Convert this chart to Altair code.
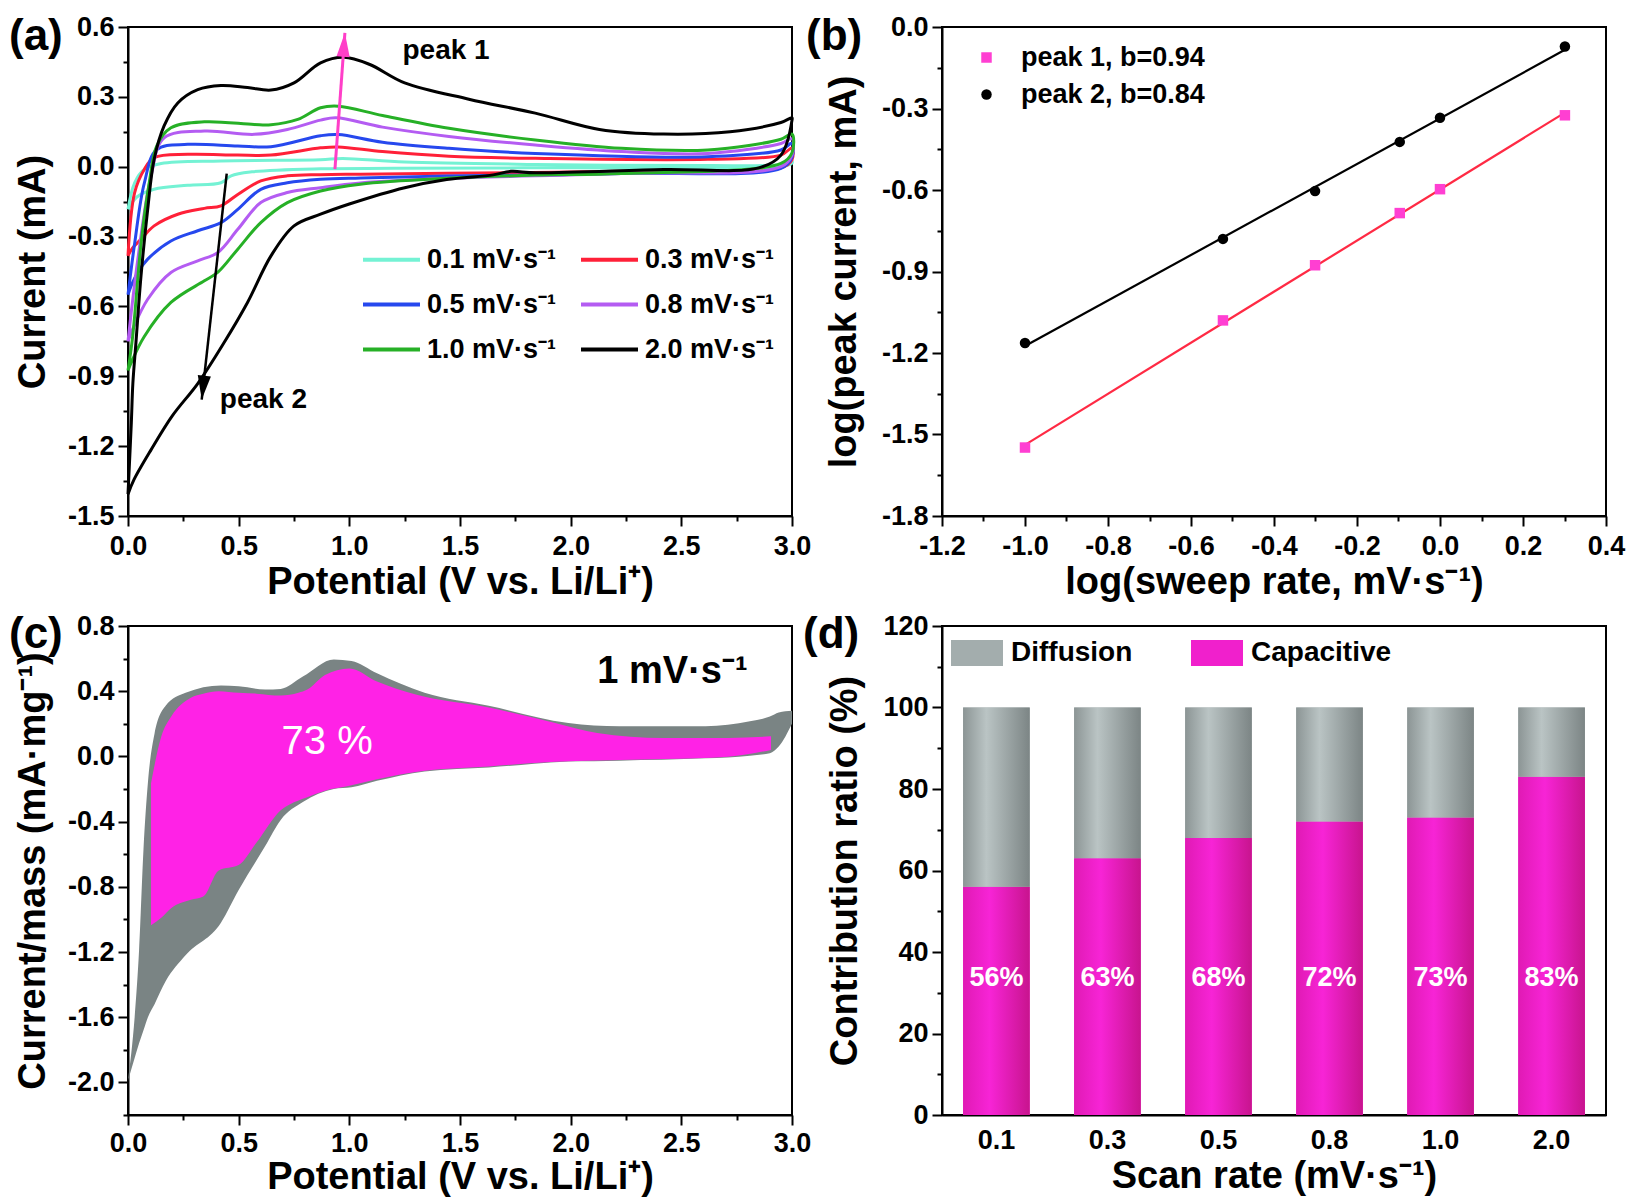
import altair as alt
import pandas as pd
import numpy as np

FONT = "Liberation Sans"
W, H = 664, 489

# ---------------- (a) CV curves ----------------
rate_labels = ["0.1 mV·s⁻¹", "0.3 mV·s⁻¹", "0.5 mV·s⁻¹", "0.8 mV·s⁻¹", "1.0 mV·s⁻¹", "2.0 mV·s⁻¹"]
rate_colors = ["#74f2d4", "#ff2038", "#2648ee", "#b45cf2", "#26b026", "#000000"]
# legend fills column by column: order entries so rows read 0.1|0.3, 0.5|0.8, 1.0|2.0
legend_order = [0, 2, 4, 1, 3, 5]

cyan_an_E = [0.0, 0.03, 0.074, 0.15, 0.42, 0.87, 0.97, 1.25, 1.84, 2.62, 2.95, 3.0]
cyan_an_I = [-0.183, -0.069, -0.011, 0.014, 0.025, 0.03, 0.035, 0.02, 0.01, 0.005, 0.01, 0.025]
cyan_ca_E = [3.0, 2.95, 2.0, 1.2, 0.87, 0.56, 0.466, 0.42, 0.27, 0.118, 0.04, 0.0]
cyan_ca_I = [0.015, 0.0, -0.004, -0.007, -0.009, -0.022, -0.039, -0.069, -0.08, -0.097, -0.13, -0.183]

red_an_E = [0.0, 0.03, 0.074, 0.118, 0.27, 0.496, 0.646, 0.87, 0.95, 1.15, 1.45, 1.84, 2.62, 2.95, 3.0]
red_an_I = [-0.383, -0.111, -0.011, 0.039, 0.053, 0.05, 0.05, 0.081, 0.085, 0.065, 0.045, 0.036, 0.032, 0.05, 0.08]
red_ca_E = [3.0, 2.95, 2.23, 1.44, 1.05, 0.87, 0.72, 0.60, 0.496, 0.42, 0.345, 0.225, 0.118, 0.059, 0.02, 0.0]
red_ca_I = [0.03, -0.005, -0.02, -0.028, -0.032, -0.034, -0.039, -0.061, -0.119, -0.168, -0.179, -0.204, -0.254, -0.311, -0.35, -0.383]

blue_an_E = [0.0, 0.03, 0.074, 0.13, 0.27, 0.496, 0.646, 0.87, 0.95, 1.15, 1.45, 1.84, 2.62, 2.95, 3.0]
blue_an_I = [-0.55, -0.33, -0.069, 0.074, 0.096, 0.089, 0.086, 0.133, 0.138, 0.105, 0.079, 0.057, 0.043, 0.072, 0.1]
blue_ca_E = [3.0, 2.95, 2.23, 1.44, 1.05, 0.87, 0.72, 0.60, 0.496, 0.42, 0.315, 0.194, 0.089, 0.044, 0.015, 0.0]
blue_ca_I = [0.04, -0.007, -0.029, -0.04, -0.048, -0.054, -0.069, -0.097, -0.183, -0.24, -0.275, -0.319, -0.397, -0.454, -0.51, -0.55]

purple_an_E = [0.0, 0.044, 0.104, 0.163, 0.345, 0.57, 0.72, 0.87, 0.94, 1.15, 1.45, 1.84, 2.23, 2.62, 2.95, 3.0]
purple_an_I = [-0.75, -0.40, -0.04, 0.124, 0.153, 0.139, 0.16, 0.2, 0.21, 0.17, 0.13, 0.093, 0.065, 0.057, 0.10, 0.12]
purple_ca_E = [3.0, 2.95, 2.23, 1.44, 1.05, 0.87, 0.72, 0.60, 0.496, 0.405, 0.315, 0.194, 0.089, 0.02, 0.0]
purple_ca_I = [0.05, 0.0, -0.029, -0.05, -0.07, -0.09, -0.111, -0.154, -0.269, -0.369, -0.404, -0.454, -0.569, -0.70, -0.75]

green_an_E = [0.0, 0.021, 0.059, 0.096, 0.13, 0.194, 0.345, 0.57, 0.646, 0.767, 0.87, 0.95, 1.15, 1.45, 1.84, 2.23, 2.62, 2.95, 3.0]
green_an_I = [-0.875, -0.73, -0.33, -0.069, 0.09, 0.167, 0.193, 0.181, 0.18, 0.203, 0.253, 0.26, 0.22, 0.165, 0.115, 0.079, 0.072, 0.118, 0.14]
green_ca_E = [3.0, 2.95, 2.23, 1.84, 1.44, 1.05, 0.87, 0.72, 0.60, 0.496, 0.405, 0.345, 0.194, 0.073, 0.015, 0.0]
green_ca_I = [0.06, 0.014, -0.029, -0.036, -0.05, -0.075, -0.104, -0.154, -0.24, -0.354, -0.454, -0.49, -0.583, -0.73, -0.84, -0.875]

black_an_E = [0.0, 0.015, 0.022, 0.036, 0.059, 0.089, 0.118, 0.163, 0.225, 0.315, 0.42, 0.54, 0.646, 0.75, 0.87, 0.975, 1.09, 1.25, 1.54, 1.84, 2.13, 2.42, 2.72, 2.95, 3.0]
black_an_I = [-1.406, -1.1, -0.93, -0.754, -0.467, -0.183, 0.031, 0.175, 0.274, 0.331, 0.349, 0.34, 0.329, 0.36, 0.446, 0.47, 0.44, 0.36, 0.29, 0.23, 0.16, 0.14, 0.15, 0.19, 0.21]
black_ca_E = [3.0, 2.95, 2.85, 2.42, 1.84, 1.73, 1.65, 1.44, 1.25, 1.0, 0.87, 0.75, 0.646, 0.54, 0.435, 0.316, 0.2, 0.104, 0.027, 0.0]
black_ca_I = [0.2, 0.05, -0.005, -0.012, -0.026, -0.02, -0.035, -0.055, -0.09, -0.16, -0.204, -0.254, -0.383, -0.583, -0.754, -0.93, -1.07, -1.216, -1.344, -1.406]

AN_E = [cyan_an_E, red_an_E, blue_an_E, purple_an_E, green_an_E, black_an_E]
AN_I = [cyan_an_I, red_an_I, blue_an_I, purple_an_I, green_an_I, black_an_I]
CA_E = [cyan_ca_E, red_ca_E, blue_ca_E, purple_ca_E, green_ca_E, black_ca_E]
CA_I = [cyan_ca_I, red_ca_I, blue_ca_I, purple_ca_I, green_ca_I, black_ca_I]

# annotation arrows in (a): start (E, I) -> tip (E, I)
arrow1 = {"E": 0.935, "I": -0.01, "E2": 0.98, "I2": 0.575}
arrow2 = {"E": 0.446, "I": -0.03, "E2": 0.333, "I2": -1.0}
peak_texts = [{"E": 1.24, "I": 0.497, "t": "peak 1"}, {"E": 0.415, "I": -1.0, "t": "peak 2"}]

# ---------------- (b) log-log ----------------
log_rate = [-1.0, -0.523, -0.301, -0.097, 0.0, 0.301]
log_peak1 = [-1.548, -1.08, -0.877, -0.685, -0.597, -0.325]
log_peak2 = [-1.163, -0.78, -0.604, -0.423, -0.334, -0.072]
b_series = ["peak 1, b=0.94", "peak 2, b=0.84"]

# ---------------- (c) capacitive area ----------------
gray_E = [0.0, 0.03, 0.05, 0.07, 0.09, 0.12, 0.17, 0.26, 0.42, 0.5, 0.62, 0.69, 0.79, 0.93, 1.01, 1.125, 1.34, 1.63, 1.99, 2.22, 2.61, 2.81, 2.9, 2.94, 3.0]
gray_up = [-1.99, -1.6, -1.19, -0.57, -0.16, 0.14, 0.31, 0.39, 0.435, 0.43, 0.41, 0.414, 0.49, 0.595, 0.585, 0.51, 0.39, 0.31, 0.205, 0.185, 0.185, 0.215, 0.245, 0.27, 0.28]
gray_lo = [-1.99, -1.85, -1.76, -1.68, -1.6, -1.52, -1.38, -1.22, -1.02, -0.82, -0.55, -0.39, -0.28, -0.2, -0.19, -0.15, -0.092, -0.068, -0.032, -0.026, -0.012, 0.004, 0.02, 0.06, 0.2]
pink_E = [0.104, 0.15, 0.196, 0.284, 0.34, 0.41, 0.50, 0.58, 0.69, 0.77, 0.81, 0.89, 1.0, 1.125, 1.30, 1.63, 1.93, 2.12, 2.42, 2.71, 2.905]
pink_up = [-0.164, 0.12, 0.246, 0.36, 0.385, 0.40, 0.39, 0.385, 0.373, 0.39, 0.41, 0.50, 0.54, 0.46, 0.38, 0.30, 0.205, 0.144, 0.113, 0.113, 0.123]
pink_lo = [-1.036, -0.99, -0.93, -0.88, -0.86, -0.70, -0.667, -0.53, -0.33, -0.27, -0.25, -0.21, -0.18, -0.14, -0.095, -0.062, -0.033, -0.025, -0.016, -0.002, 0.04]

# ---------------- (d) contribution bars ----------------
scan_rates = ["0.1", "0.3", "0.5", "0.8", "1.0", "2.0"]
capacitive_pct = [56, 63, 68, 72, 73, 83]

# =================================================================
def lin_axis(values, major, digits, title, label_pad, title_pad):
    lbl = ("(" + major + ") ? ((datum.value < -1e-9 ? '-' : '') + format(abs(datum.value), '." + str(digits) + "f')) : ''")
    return alt.Axis(values=values, title=title, labelExpr=lbl,
                    tickSize={"condition": {"test": major, "value": 10}, "value": 5},
                    labelPadding=label_pad, titlePadding=title_pad)

def ticks(a, b, step):
    return [round(float(v), 4) for v in np.arange(a, b + step / 2, step)]

HALF = "abs(datum.value*2 - round(datum.value*2)) < 0.01"
P3 = "abs(datum.value/0.3 - round(datum.value/0.3)) < 0.01"
P2 = "abs(datum.value*5 - round(datum.value*5)) < 0.01"
P4 = "abs((datum.value+2)/0.4 - round((datum.value+2)/0.4)) < 0.01"

def panel_label(txt, dx, dy):
    return alt.Chart(pd.DataFrame({"lab": [txt]})).mark_text(
        font=FONT, fontSize=44, fontWeight="bold", align="left", baseline="middle", color="black"
    ).encode(x=alt.value(dx), y=alt.value(dy), text="lab:N")

# ---------- panel (a)
rows = []
for lab, aE, aI, cE, cI in zip(rate_labels, AN_E, AN_I, CA_E, CA_I):
    for k, (e, i) in enumerate(zip(aE + cE, aI + cI)):
        rows.append({"rate": lab, "seq": k, "E": e, "I": i})
df_a = pd.DataFrame(rows)

ax_a_x = lin_axis(ticks(0, 3, 0.25), HALF, 1, "Potential (V vs. Li/Li⁺)", 7, 4)
ax_a_y = lin_axis(ticks(-1.5, 0.6, 0.15), P3, 1, "Current (mA)", 4, 15)
sx_a = alt.Scale(domain=[0, 3], nice=False, zero=False)
sy_a = alt.Scale(domain=[-1.5, 0.6], nice=False, zero=False)

def xa(f="E"):
    return alt.X(f + ":Q", scale=sx_a, axis=ax_a_x)
def ya(f="I"):
    return alt.Y(f + ":Q", scale=sy_a, axis=ax_a_y)

a_lines = alt.Chart(df_a).mark_line(strokeWidth=3, interpolate="catmull-rom").encode(
    x=xa(), y=ya(), order="seq:Q",
    color=alt.Color("rate:N",
                    scale=alt.Scale(domain=[rate_labels[k] for k in legend_order],
                                    range=[rate_colors[k] for k in legend_order]),
                    legend=alt.Legend(orient="none", legendX=247, legendY=216, columns=2, title=None,
                                      symbolType="M-2,0H2", symbolSize=812, symbolStrokeWidth=4,
                                      labelOffset=19, columnPadding=16, rowPadding=15, padding=0,
                                      labelFont=FONT, labelFontSize=27, labelFontWeight="bold",
                                      labelColor="black", labelLimit=300)),
)
ARROW = "M0,0L0.55,2L-0.55,2Z"
def arrow(d, color, ang, width):
    df = pd.DataFrame([d])
    r = alt.Chart(df).mark_rule(color=color, strokeWidth=width).encode(
        x=xa(), y=ya(), x2="E2:Q", y2="I2:Q")
    h = alt.Chart(df).mark_point(shape=ARROW, filled=True, size=576, color=color, opacity=1,
                                 angle=ang).encode(x=xa("E2"), y=ya("I2"))
    return r + h

a_text = alt.Chart(pd.DataFrame(peak_texts)).mark_text(
    font=FONT, fontSize=28, fontWeight="bold", align="left", baseline="middle", color="black"
).encode(x=xa(), y=ya(), text="t:N")

pa = alt.layer(a_lines, arrow(arrow1, "#ff3fc8", 4.2, 3), arrow(arrow2, "black", 186.3, 2.5),
               a_text, panel_label("(a)", -119, 10)).properties(width=W, height=H)

# ---------- panel (b)
df_b = pd.DataFrame({
    "lx": log_rate * 2,
    "ly": log_peak1 + log_peak2,
    "s": [b_series[0]] * len(log_rate) + [b_series[1]] * len(log_rate),
})
ax_b_x = lin_axis(ticks(-1.2, 0.4, 0.1), P2, 1, "log(sweep rate, mV·s⁻¹)", 7, 4)
ax_b_y = lin_axis(ticks(-1.8, 0.0, 0.15), P3, 1, "log(peak current, mA)", 4, 18)
sx_b = alt.Scale(domain=[-1.2, 0.4], nice=False, zero=False)
sy_b = alt.Scale(domain=[-1.8, 0.0], nice=False, zero=False)

def fit(series, color):
    return alt.Chart(df_b).transform_filter(alt.datum.s == series).transform_regression(
        "lx", "ly").mark_line(color=color, strokeWidth=2.2).encode(
        x=alt.X("lx:Q", scale=sx_b, axis=ax_b_x), y=alt.Y("ly:Q", scale=sy_b, axis=ax_b_y))

b_pts = alt.Chart(df_b).mark_point(filled=True, size=110, opacity=1).encode(
    x=alt.X("lx:Q", scale=sx_b, axis=ax_b_x), y=alt.Y("ly:Q", scale=sy_b, axis=ax_b_y),
    color=alt.Color("s:N", scale=alt.Scale(domain=b_series, range=["#ff3fd2", "#000000"]),
                    legend=alt.Legend(orient="none", legendX=31, legendY=17, title=None,
                                      symbolSize=110, labelOffset=21, rowPadding=9, padding=0,
                                      labelFont=FONT, labelFontSize=27, labelFontWeight="bold",
                                      labelColor="black", labelLimit=300, symbolStrokeWidth=0)),
    shape=alt.Shape("s:N", scale=alt.Scale(domain=b_series, range=["square", "circle"])),
)
pb = alt.layer(fit(b_series[0], "#ff2a44"), fit(b_series[1], "black"), b_pts,
               panel_label("(b)", -136, 10)).properties(width=W, height=H)

# ---------- panel (c)
ax_c_x = lin_axis(ticks(0, 3, 0.25), HALF, 1, "Potential (V vs. Li/Li⁺)", 5, 2)
ax_c_y = lin_axis(ticks(-2.2, 0.8, 0.2), P4, 1, "Current/mass (mA·mg⁻¹)", 4, 15)
sx_c = alt.Scale(domain=[0, 3], nice=False, zero=False)
sy_c = alt.Scale(domain=[-2.2, 0.8], nice=False, zero=False)

def xc():
    return alt.X("E:Q", scale=sx_c, axis=ax_c_x)
def yc():
    return alt.Y("up:Q", scale=sy_c, axis=ax_c_y)

c_gray = alt.Chart(pd.DataFrame({"E": gray_E, "up": gray_up, "lo": gray_lo})).mark_area(
    color="#7a8484", interpolate="monotone", opacity=1).encode(x=xc(), y=yc(), y2="lo:Q")
c_pink = alt.Chart(pd.DataFrame({"E": pink_E, "up": pink_up, "lo": pink_lo})).mark_area(
    color="#ff22e6", interpolate="monotone", opacity=1).encode(x=xc(), y=yc(), y2="lo:Q")
c_t1 = alt.Chart(pd.DataFrame({"E": [0.9], "up": [0.09], "t": ["73 %"]})).mark_text(
    font=FONT, fontSize=40, color="white", align="center", baseline="middle").encode(
    x=xc(), y=yc(), text="t:N")
c_t2 = alt.Chart(pd.DataFrame({"E": [2.46], "up": [0.517], "t": ["1 mV·s⁻¹"]})).mark_text(
    font=FONT, fontSize=38, fontWeight="bold", color="black", align="center", baseline="middle").encode(
    x=xc(), y=yc(), text="t:N")
pc = alt.layer(c_gray, c_pink, c_t1, c_t2, panel_label("(c)", -119, 9)).properties(width=W, height=H)

# ---------- panel (d)
long_rows = []
for r, c in zip(scan_rates, capacitive_pct):
    long_rows.append({"rate": r, "comp": "Capacitive", "lo": 0, "hi": c, "lab": f"{c}%"})
    long_rows.append({"rate": r, "comp": "Diffusion", "lo": c, "hi": 100, "lab": ""})
df_d = pd.DataFrame(long_rows)

ax_d_y = alt.Axis(values=ticks(0, 120, 10), title="Contribution ratio (%)",
                  labelExpr="datum.value % 20 == 0 ? format(datum.value, 'd') : ''",
                  tickSize={"condition": {"test": "datum.value % 20 == 0", "value": 10}, "value": 5},
                  labelPadding=4, titlePadding=18)
ax_d_x = alt.Axis(title="Scan rate (mV·s⁻¹)", ticks=False, labelAngle=0, labelPadding=12, titlePadding=4)
sx_d = alt.Scale(domain=scan_rates, paddingInner=0.4, paddingOuter=0.19)
sy_d = alt.Scale(domain=[0, 120], nice=False, zero=True)

def xd():
    return alt.X("rate:N", scale=sx_d, axis=ax_d_x, sort=scan_rates)
def yd(f="hi"):
    return alt.Y(f + ":Q", scale=sy_d, axis=ax_d_y)

grad_gray = alt.Gradient(gradient="linear", x1=0, x2=1, y1=0, y2=0, stops=[
    alt.GradientStop(offset=0, color="#8c9595"), alt.GradientStop(offset=0.35, color="#bac4c4"),
    alt.GradientStop(offset=1, color="#7c8585")])
grad_pink = alt.Gradient(gradient="linear", x1=0, x2=1, y1=0, y2=0, stops=[
    alt.GradientStop(offset=0, color="#e01ab4"), alt.GradientStop(offset=0.4, color="#f724d6"),
    alt.GradientStop(offset=1, color="#c8148e")])

d_base = alt.Chart(df_d).mark_bar().encode(
    x=xd(), y=yd(), y2="lo:Q",
    color=alt.Color("comp:N", scale=alt.Scale(domain=["Diffusion", "Capacitive"], range=["#a3adad", "#f020cc"]),
                    legend=alt.Legend(orient="none", direction="horizontal", legendX=9, legendY=1, title=None,
                                      symbolType="M-1,-0.5H1V0.5H-1Z", symbolSize=2704, symbolStrokeWidth=0,
                                      labelOffset=8, columnPadding=58, padding=0,
                                      labelFont=FONT, labelFontSize=28, labelFontWeight="bold",
                                      labelColor="black", labelLimit=300)),
)
d_cap = alt.Chart(df_d).transform_filter(alt.datum.comp == "Capacitive").mark_bar(color=grad_pink).encode(
    x=xd(), y=yd(), y2="lo:Q")
d_dif = alt.Chart(df_d).transform_filter(alt.datum.comp == "Diffusion").mark_bar(color=grad_gray).encode(
    x=xd(), y=yd(), y2="lo:Q")
d_txt = alt.Chart(df_d).transform_filter(alt.datum.comp == "Capacitive").transform_calculate(
    ylab="33.5").mark_text(font=FONT, fontSize=27, fontWeight="bold", color="white",
                           align="center", baseline="middle").encode(
    x=xd(), y=yd("ylab"), text="lab:N")
pd_ = alt.layer(d_base, d_cap, d_dif, d_txt, panel_label("(d)", -139, 9)).properties(width=W, height=H)

chart = alt.concat(pa, pb, pc, pd_, columns=2, spacing={"row": 110, "column": 150}, bounds="flush").resolve_scale(
    x="independent", y="independent", color="independent", shape="independent"
).properties(padding={"left": 0, "top": 4, "right": 0, "bottom": 0}).configure_view(
    stroke="black", strokeWidth=2).configure_axis(
    domainColor="black", domainWidth=2, tickColor="black", tickWidth=2, grid=False,
    labelFont=FONT, labelFontSize=27, labelFontWeight="bold", labelColor="black",
    titleFont=FONT, titleFontSize=38, titleFontWeight="bold", titleColor="black",
    labelFlush=False, labelOverlap=False,
)

chart.save("out.html", embed_options={"renderer": "svg", "actions": False})
